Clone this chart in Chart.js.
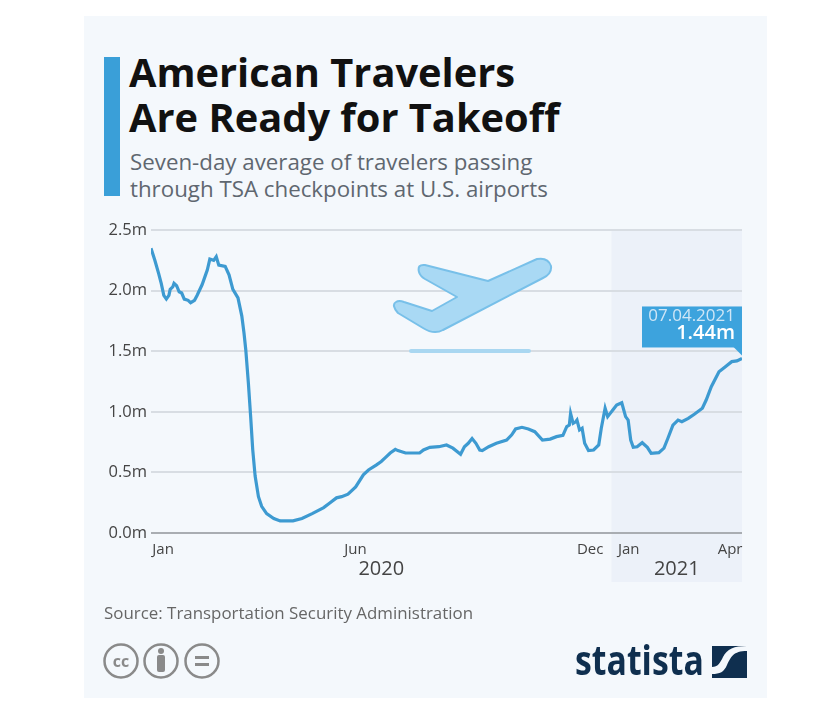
<!DOCTYPE html>
<html>
<head>
<meta charset="utf-8">
<script src="https://cdn.jsdelivr.net/npm/chart.js@4/dist/chart.umd.min.js"></script>
<style>
html, body { margin: 0; padding: 0; background: #fff; }
body { width: 839px; height: 709px; position: relative; overflow: hidden; font-family: "Open Sans", sans-serif; }
#card { position: absolute; left: 84px; top: 16px; width: 683px; height: 682px; background: #f4f8fc; }
#bar { position: absolute; left: 104px; top: 57px; width: 16px; height: 139px; background: #3a9fd8; }
.t { position: absolute; white-space: nowrap; }
#title { left: 129px; top: 49px; font-size: 39.8px; line-height: 45px; font-weight: 700; color: #111; }
#subtitle { left: 130px; top: 148px; font-size: 22.3px; line-height: 27px; color: #5f6770; }
#source { left: 104px; top: 602px; font-size: 16.9px; line-height: 22px; color: #666; }
#brand { left: 575px; top: 631px; font-size: 42px; line-height: 56px; font-weight: 700; color: #0f2f4f; transform: scaleX(0.805); transform-origin: left top; }
#wrap { position: absolute; left: 100px; top: 216px; width: 667px; height: 380px; }
svg { position: absolute; left: 0; top: 0; pointer-events: none; }
</style>
</head>
<body>
<div id="card"></div>
<div id="bar"></div>
<div class="t" id="title">American Travelers<br>Are Ready for Takeoff</div>
<div class="t" id="subtitle">Seven-day average of travelers passing<br>through TSA checkpoints at U.S. airports</div>
<div id="wrap"><canvas id="chart"></canvas></div>
<svg width="839" height="709">
  <rect x="409" y="349" width="122" height="4" rx="2" fill="#a9d7f1"/>
  <path d="M419 272 Q417 264 425 265 L488 281 L537 259 Q548 257 551 266 Q552 274 543 278 L443 330 Q434 335 423 328 L398 313 Q391 305 396 302 Q399 300 404 302 L432 311 L457 297 L425 279 Q420 276 419 272 Z"
        fill="#a9d9f4" stroke="#78c0e9" stroke-width="2" stroke-linejoin="round"/>
  <g fill="none" stroke="#8a8a8a" stroke-width="2.5">
    <circle cx="121" cy="661" r="16.5"/>
    <circle cx="161" cy="661" r="16.5"/>
    <circle cx="202" cy="661" r="16.5"/>
  </g>
  <text x="121" y="667" text-anchor="middle" font-family="Open Sans" font-weight="700" font-size="16" fill="#8a8a8a">cc</text>
  <circle cx="161" cy="651" r="3" fill="#8a8a8a"/>
  <rect x="157" y="655" width="8" height="17" rx="2" fill="#8a8a8a"/>
  <rect x="195" y="656" width="14" height="3" fill="#8a8a8a"/>
  <rect x="195" y="663" width="14" height="3" fill="#8a8a8a"/>
  <rect x="712" y="646" width="35" height="32" fill="#0f2f4f"/>
  <path d="M747 651 C733 651 731 657 727 665 C724 672 720 674 712 674 L712 667 C718 667 720 663 723 657 C727 649 734 646 747 646 Z" fill="#f4f8fc"/>
</svg>
<div class="t" id="source">Source: Transportation Security Administration</div>
<div class="t" id="brand">statista</div>

<script>
// days since 1 Jan 2020
const days = [0,3,6,8,10,12,14,15,17,18,20,22,24,26,29,31,34,36,40,43,44,46,49,51,53,58,61,64,68,71,72.7,74.1,76.1,77.9,79.5,81.4,84,86.5,90.4,96,101,111,118,126,135,140,145,149,154,160,166,170,176,180,183,187,191,193,199,210,213,218,225,231,236,242,245,248,251,254,257,259,264,270,278,282,285,290,295,300,306,312,317,322,325,327,328,330,332,333,335,337,339,342,346,350,352,355,357,359,361,364,368,371,373,375,377,380,384,388,391,397,401,404,408,412,415,420,425,431,434,438,444,449,454,458,462];
// travelers, millions
const travelers = [2.35,2.25,2.14,2.06,1.96,1.93,1.96,2.01,2.03,2.06,2.04,1.99,1.98,1.93,1.92,1.90,1.92,1.96,2.05,2.14,2.17,2.26,2.25,2.28,2.21,2.20,2.13,2.01,1.94,1.79,1.65,1.51,1.24,0.96,0.69,0.47,0.30,0.22,0.16,0.12,0.10,0.10,0.12,0.16,0.21,0.25,0.29,0.30,0.32,0.38,0.48,0.52,0.56,0.59,0.62,0.66,0.69,0.68,0.66,0.66,0.685,0.707,0.712,0.726,0.70,0.65,0.712,0.74,0.78,0.74,0.685,0.68,0.712,0.74,0.767,0.81,0.858,0.872,0.858,0.836,0.767,0.775,0.795,0.806,0.877,0.89,0.987,0.905,0.918,0.932,0.85,0.864,0.74,0.68,0.685,0.726,0.864,1.03,0.96,0.987,1.015,1.056,1.075,0.96,0.932,0.767,0.707,0.712,0.745,0.707,0.657,0.663,0.70,0.78,0.89,0.932,0.918,0.946,0.982,1.03,1.097,1.207,1.33,1.372,1.414,1.42,1.44];
const yTicks = [0, 0.5, 1, 1.5, 2, 2.5];
const xTickDays = [1, 151, 333, 365, 443];
const xTickLabels = ['Jan', 'Jun', 'Dec', 'Jan', 'Apr'];
const years = ['2020', '2021'];
const yearCenters = [180, 411];
const bandStart = 360;
const calloutDate = '07.04.2021';
const calloutValue = '1.44m';

const bandPlugin = {
    id: 'band',
    beforeDraw(chart) {
        const { ctx, chartArea, scales } = chart;
        const x0 = scales.x.getPixelForValue(bandStart);
        ctx.save();
        ctx.fillStyle = '#ecf1f9';
        ctx.fillRect(x0, chartArea.top, chartArea.right - x0, 352);
        ctx.restore();
    }
};

const extrasPlugin = {
    id: 'extras',
    afterDraw(chart) {
        const { ctx, chartArea, scales } = chart;
        ctx.save();
        // year labels
        ctx.fillStyle = '#444';
        ctx.font = '20px "Open Sans"';
        ctx.textAlign = 'center';
        ctx.textBaseline = 'middle';
        years.forEach((y, i) => ctx.fillText(y, scales.x.getPixelForValue(yearCenters[i]), chartArea.bottom + 36));

        // callout on the last point
        const px = scales.x.getPixelForValue(days[days.length - 1]);
        const py = scales.y.getPixelForValue(travelers[travelers.length - 1]);
        ctx.fillStyle = '#3da3dd';
        ctx.fillRect(px - 100, py - 52, 100, 41);
        ctx.beginPath();
        ctx.moveTo(px - 9, py - 12);
        ctx.lineTo(px, py - 12);
        ctx.lineTo(px, py - 3);
        ctx.closePath();
        ctx.fill();
        ctx.textAlign = 'right';
        ctx.fillStyle = '#cfe6f6';
        ctx.font = '17px "Open Sans"';
        ctx.fillText(calloutDate, px - 7, py - 42);
        ctx.fillStyle = '#fff';
        ctx.font = '600 20px "Open Sans"';
        ctx.fillText(calloutValue, px - 7, py - 25);
        ctx.restore();
    }
};

new Chart(document.getElementById('chart'), {
    type: 'line',
    data: {
        labels: days,
        datasets: [{
            data: days.map((d, i) => ({ x: d, y: travelers[i] })),
            borderColor: '#3d9ad1',
            borderWidth: 3.2,
            pointRadius: 0,
            tension: 0,
            fill: false
        }]
    },
    options: {
        responsive: true,
        maintainAspectRatio: false,
        animation: false,
        layout: { padding: { top: 14, right: 25, left: 0, bottom: 0 } },
        plugins: { legend: { display: false }, tooltip: { enabled: false } },
        scales: {
            x: {
                type: 'linear',
                min: 0,
                max: 462,
                afterFit: s => { s.height = 63; },
                afterBuildTicks: s => { s.ticks = xTickDays.map(v => ({ value: v })); },
                grid: { display: false },
                border: { display: false },
                ticks: {
                    autoSkip: false,
                    maxRotation: 0,
                    align: 'start',
                    padding: 0,
                    color: '#444',
                    font: { family: 'Open Sans', size: 15 },
                    callback: (v, i) => xTickLabels[i]
                }
            },
            y: {
                min: 0,
                max: 2.5,
                afterFit: s => { s.width = 51; },
                afterBuildTicks: s => { s.ticks = yTicks.map(v => ({ value: v })); },
                grid: {
                    drawTicks: false,
                    lineWidth: 2,
                    color: c => c.tick.value === 0 ? '#a9adb2' : '#d8dde3'
                },
                border: { display: false },
                ticks: {
                    padding: 4,
                    color: '#444',
                    font: { family: 'Open Sans', size: 16.5 },
                    callback: v => v.toFixed(1) + 'm'
                }
            }
        }
    },
    plugins: [bandPlugin, extrasPlugin]
});
</script>
</body>
</html>
